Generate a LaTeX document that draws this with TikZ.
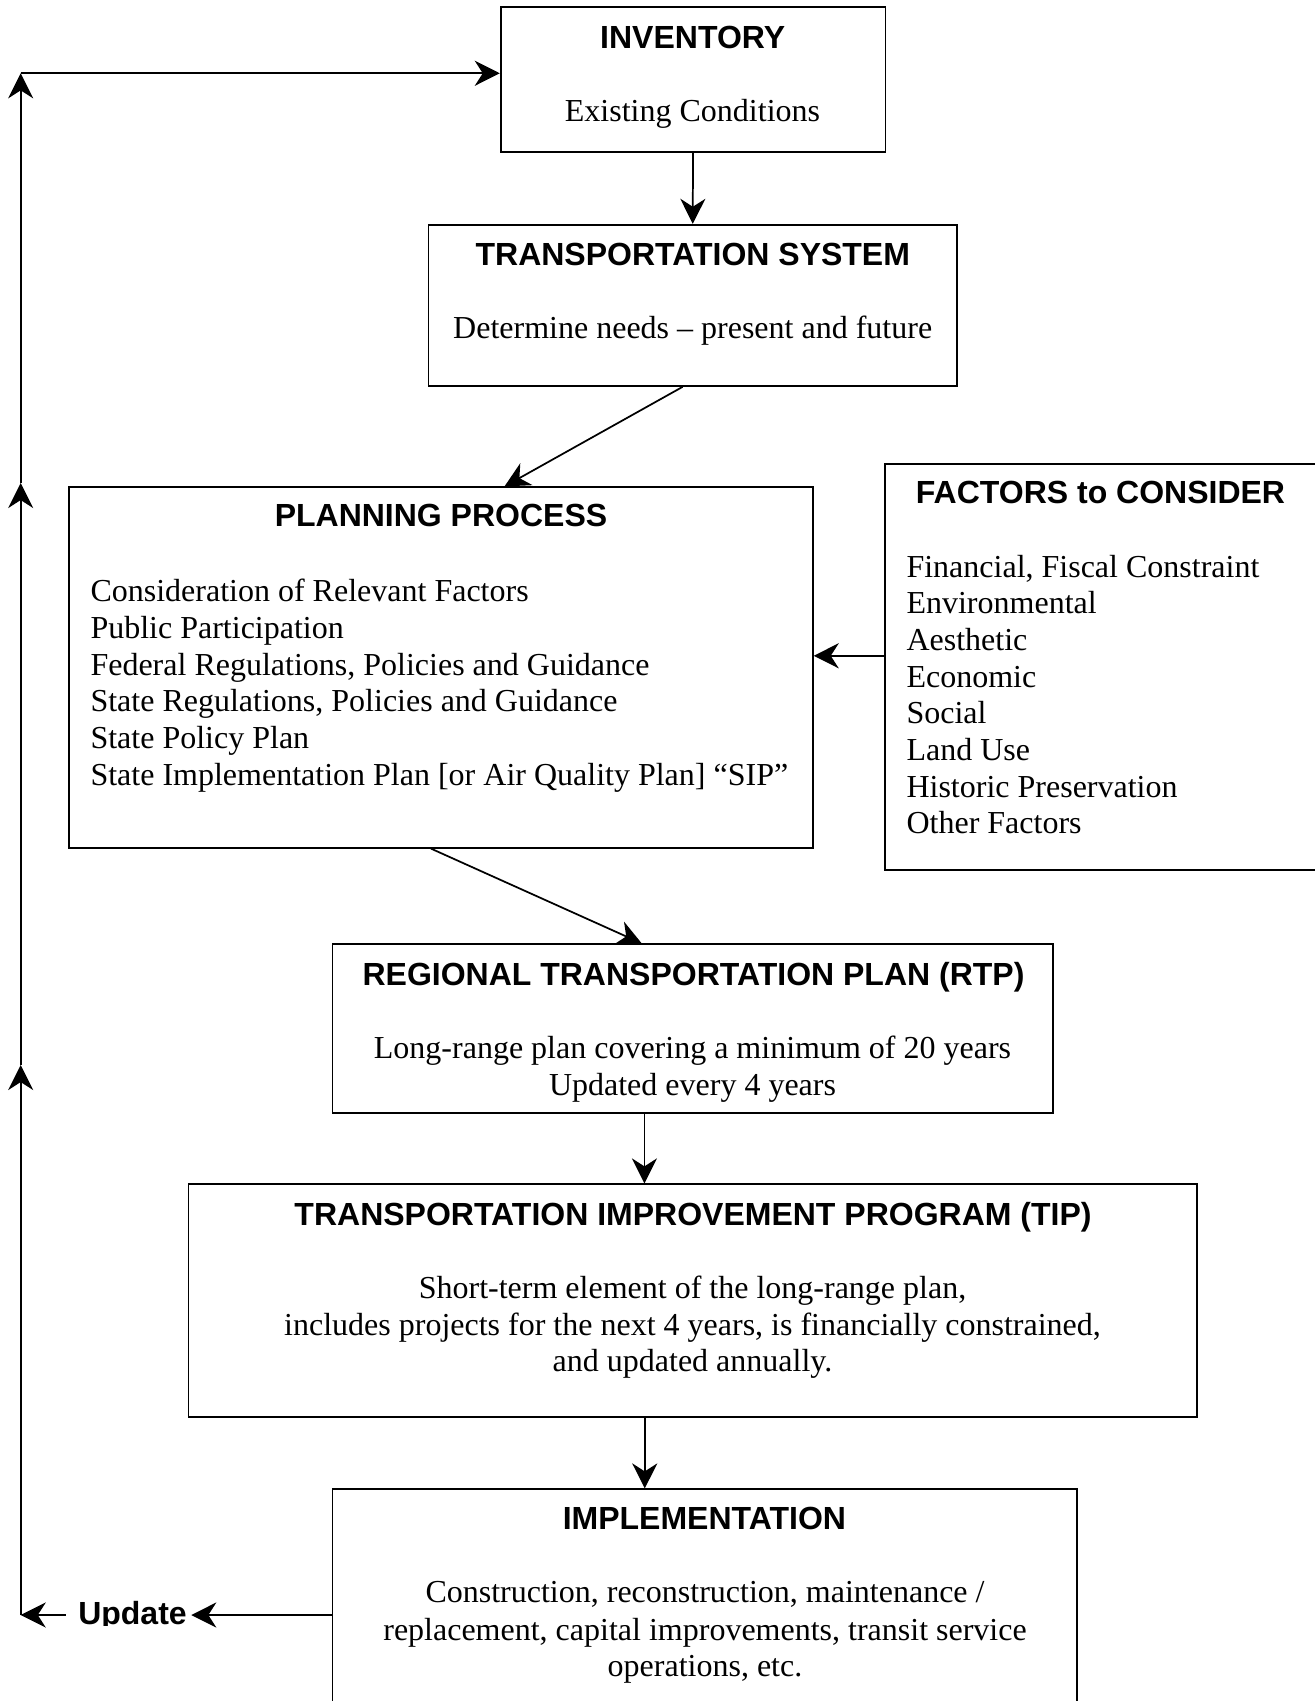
\documentclass[tikz,border=0pt]{standalone}
\usepackage{fontspec}
\setmainfont{Liberation Serif}
\setsansfont{Liberation Sans}
\usetikzlibrary{arrows.meta,fit}
\tikzset{
  box/.style={draw, line width=0.65pt, inner sep=0pt},
  ttl/.style={anchor=base, inner sep=0pt, font=\fontsize{12pt}{14pt}\selectfont\sffamily\bfseries},
  txt/.style={anchor=base, inner sep=0pt, font=\fontsize{12pt}{14pt}\selectfont\rmfamily},
  txtl/.style={anchor=base west, inner sep=0pt, font=\fontsize{12pt}{14pt}\selectfont\rmfamily},
  arr/.style={line width=0.65pt, -{Stealth[length=9.4pt,width=9.4pt,inset=3pt]}}
}
\begin{document}
\begin{tikzpicture}[x=0.375pt, y=-0.375pt]
\useasboundingbox (0,0) rectangle (1315,1701);
\clip (0,0) rectangle (1315,1701);

% corner coordinates of the boxes
\coordinate (inv1) at (500.7,7.3);   \coordinate (inv2) at (885.4,152);
\coordinate (ts1) at (428.6,224.7);  \coordinate (ts2) at (956.8,386);
\coordinate (pp1) at (68.7,487.3);   \coordinate (pp2) at (812.8,847.7);
\coordinate (fac1) at (885,464);     \coordinate (fac2) at (1317,870);
\coordinate (rtp1c) at (332.4,944.3); \coordinate (rtp2c) at (1053,1112.7);
\coordinate (tip1c) at (188.5,1184.3); \coordinate (tip2c) at (1197,1417.3);
\coordinate (imp1) at (332.4,1489.3); \coordinate (imp2) at (1077,1720);

% boxes
\node[box, fit=(inv1)(inv2)] (inv) {};
\node[box, fit=(ts1)(ts2)] (ts) {};
\node[box, fit=(pp1)(pp2)] (pp) {};
\node[box, fit=(fac1)(fac2)] (fac) {};
\node[box, fit=(rtp1c)(rtp2c)] (rtp) {};
\node[box, fit=(tip1c)(tip2c)] (tip) {};
\node[box, fit=(imp1)(imp2)] (impl) {};

% INVENTORY
\node[ttl] (invt) at (692.7,48.3) {INVENTORY};
\node[txt] (invb) at (692.5,121.7) {Existing Conditions};

% TRANSPORTATION SYSTEM
\node[ttl] (tst) at (692.8,265.7) {TRANSPORTATION SYSTEM};
\node[txt] (tsb) at (692.7,338.3) {Determine needs -- present and future};

% PLANNING PROCESS
\node[ttl] (ppt) at (441,526.7) {PLANNING PROCESS};
\foreach \t [count=\i from 0] in {
  Consideration of Relevant Factors,
  Public Participation,
  {Federal Regulations, Policies and Guidance},
  {State Regulations, Policies and Guidance},
  State Policy Plan,
  State Implementation Plan [or Air Quality Plan] “SIP”}
  \node[txtl] (ppl\i) at (90,601.7+36.67*\i) {\t};

% FACTORS
\node[ttl] (fact) at (1100.5,503.3) {FACTORS to CONSIDER};
\foreach \t [count=\i from 0] in {
  {Financial, Fiscal Constraint},
  Environmental, Aesthetic, Economic, Social, Land Use,
  Historic Preservation, Other Factors}
  \node[txtl] (facl\i) at (906,577.3+36.67*\i) {\t};

% RTP
\node[ttl] (rtpt) at (693.5,985) {REGIONAL TRANSPORTATION PLAN (RTP)};
\node[txt] (rtpl1) at (692.5,1058.3) {Long-range plan covering a minimum of 20 years};
\node[txt] (rtpl2) at (692.5,1095) {Updated every 4 years};

% TIP
\node[ttl] (tipt) at (693,1225) {TRANSPORTATION IMPROVEMENT PROGRAM (TIP)};
\node[txt] (tipl1) at (692.5,1298.3) {Short-term element of the long-range plan,};
\node[txt] (tipl2) at (692.5,1335) {includes projects for the next 4 years, is financially constrained,};
\node[txt] (tipl3) at (692.5,1371.7) {and updated annually.};

% IMPLEMENTATION
\node[ttl] (implt) at (704.4,1529.3) {IMPLEMENTATION};
\node[txt] (impl1) at (705,1602.3) {Construction, reconstruction, maintenance /};
\node[txt] (impl2) at (705,1640) {replacement, capital improvements, transit service};
\node[txt] (impl3) at (705,1676.7) {operations, etc.};

% Update label (bottom clipped as in the original)
\begin{scope}
\clip (0,0) rectangle (1315,1625);
\node[ttl] (upd) at (132.5,1624) {Update};
\end{scope}

% connectors
\draw[arr] (inv.south) -- (ts.north);
\draw[arr] ([xshift=-3.8pt]ts.south) -- ([xshift=23.9pt]pp.north);
\draw[arr] ([yshift=4.2pt]fac.west) -- ([yshift=4.2pt]fac.west -| pp.east);
\draw[arr] ([xshift=-3.7pt]pp.south) -- ([xshift=-19.1pt]rtp.north);
\draw[arr] ([xshift=-18.1pt]rtp.south) -- ([xshift=-18.1pt]rtp.south |- tip.north);
\draw[arr] ([xshift=-18pt]tip.south) -- ([xshift=-18pt]tip.south |- impl.north);

% feedback loop
\coordinate (cl) at (20.7,1615);
\coordinate (a1) at (20.7,1065);
\coordinate (a2) at (20.7,483);
\coordinate (ct) at (20.7,73.3);
\draw[arr] (impl.west |- cl) -- ([xshift=1.5pt]upd.east |- cl);
\draw[arr] ([xshift=-4.5pt]upd.west |- cl) -- (cl);
\draw[arr] (cl) -- (a1);
\draw[arr] (a1) -- (a2);
\draw[arr] (a2) -- (ct);
\draw[arr] (ct) -- (ct -| inv.west);
\end{tikzpicture}
\end{document}
